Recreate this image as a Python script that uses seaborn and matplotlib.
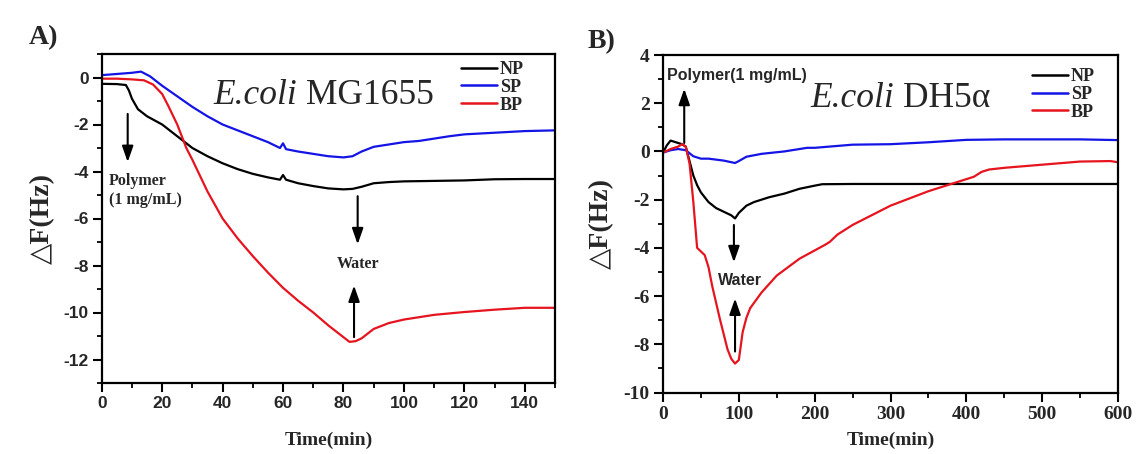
import numpy as np
import pandas as pd
import seaborn as sns
import matplotlib
matplotlib.use("Agg")
import matplotlib.pyplot as plt
from matplotlib.ticker import MultipleLocator
from matplotlib.lines import Line2D

# ---------------- Data: panel A (E.coli MG1655) ----------------
a_np_t = [0, 5, 8, 9, 10, 12, 15, 20, 25, 30, 35, 40, 45, 50, 55, 59, 60, 61, 65, 70, 75, 80, 83, 86, 90, 95, 100, 110, 120, 130, 140, 150]
a_np = [-0.27, -0.28, -0.32, -0.55, -0.9, -1.35, -1.65, -2.0, -2.5, -3.0, -3.35, -3.65, -3.9, -4.1, -4.25, -4.35, -4.15, -4.35, -4.5, -4.62, -4.72, -4.76, -4.74, -4.65, -4.5, -4.45, -4.42, -4.4, -4.38, -4.33, -4.32, -4.32]
a_sp_t = [0, 5, 10, 13, 16, 20, 25, 30, 35, 40, 45, 50, 55, 59, 60, 61, 65, 70, 75, 80, 83, 86, 90, 95, 100, 105, 110, 115, 120, 130, 140, 150]
a_sp = [0.1, 0.15, 0.2, 0.25, 0.05, -0.35, -0.8, -1.25, -1.65, -2.0, -2.25, -2.5, -2.75, -3.0, -2.8, -3.05, -3.15, -3.25, -3.35, -3.4, -3.35, -3.15, -2.95, -2.85, -2.75, -2.7, -2.6, -2.5, -2.42, -2.35, -2.28, -2.25]
a_bp_t = [0, 5, 10, 14, 17, 20, 22, 25, 28, 30, 35, 40, 45, 50, 55, 60, 65, 70, 75, 80, 82, 84, 86, 88, 90, 95, 100, 110, 120, 130, 140, 150]
a_bp = [-0.05, -0.05, -0.08, -0.12, -0.3, -0.7, -1.2, -2.0, -3.0, -3.5, -4.85, -6.0, -6.85, -7.6, -8.3, -8.95, -9.5, -10.0, -10.55, -11.05, -11.25, -11.22, -11.1, -10.9, -10.7, -10.45, -10.3, -10.1, -9.98, -9.88, -9.8, -9.8]

# ---------------- Data: panel B (E.coli DH5a) ----------------
b_np_t = [0, 5, 10, 15, 20, 25, 30, 35, 40, 45, 50, 60, 70, 80, 90, 95, 100, 110, 120, 140, 160, 180, 200, 210, 250, 300, 400, 500, 600]
b_np = [-0.05, 0.25, 0.45, 0.4, 0.35, 0.3, 0.2, -0.4, -1.0, -1.4, -1.7, -2.1, -2.35, -2.5, -2.65, -2.78, -2.55, -2.25, -2.1, -1.9, -1.75, -1.55, -1.42, -1.36, -1.35, -1.35, -1.35, -1.35, -1.35]
b_sp_t = [0, 10, 20, 30, 40, 50, 60, 80, 95, 100, 110, 130, 160, 190, 200, 250, 300, 350, 400, 450, 500, 550, 600]
b_sp = [-0.05, 0.05, 0.1, 0.05, -0.2, -0.3, -0.3, -0.38, -0.48, -0.4, -0.22, -0.1, 0.0, 0.15, 0.15, 0.28, 0.3, 0.38, 0.48, 0.5, 0.5, 0.5, 0.47]
b_bp_t = [0, 10, 20, 25, 30, 35, 40, 45, 50, 55, 60, 65, 75, 85, 90, 95, 100, 105, 110, 115, 130, 150, 180, 215, 220, 230, 250, 300, 350, 380, 400, 410, 420, 430, 450, 500, 550, 590, 600]
b_bp = [-0.05, 0.1, 0.2, 0.3, 0.2, -0.5, -2.1, -4.0, -4.15, -4.3, -4.8, -5.6, -6.95, -8.2, -8.6, -8.8, -8.65, -7.5, -6.9, -6.5, -5.85, -5.15, -4.45, -3.85, -3.75, -3.45, -3.05, -2.25, -1.65, -1.35, -1.15, -1.05, -0.85, -0.75, -0.68, -0.55, -0.42, -0.4, -0.45]

series_names = ["NP", "SP", "BP"]
palette = {"NP": "#000000", "SP": "#1414e6", "BP": "#e6141e"}


def frame(ts, ys):
    rows = []
    for name, t, y in zip(series_names, ts, ys):
        rows.append(pd.DataFrame({"Time": t, "dF": y, "Sample": name}))
    return pd.concat(rows, ignore_index=True)


df_a = frame([a_np_t, a_sp_t, a_bp_t], [a_np, a_sp, a_bp])
df_b = frame([b_np_t, b_sp_t, b_bp_t], [b_np, b_sp, b_bp])

sns.set_style("ticks")
SERIF = ['Liberation Serif', 'DejaVu Serif']
SANS = ['Liberation Sans', 'DejaVu Sans']
plt.rcParams['font.family'] = SERIF
plt.rcParams['axes.unicode_minus'] = False
plt.rcParams['axes.linewidth'] = 1.6

fig = plt.figure(figsize=(11.4, 4.54), dpi=100)
ax_a = fig.add_axes([101.7 / 1140, (454 - 383) / 454, 453.3 / 1140, 329 / 454])
ax_b = fig.add_axes([663 / 1140, (454 - 392.5) / 454, 455 / 1140, 337.5 / 454])


def style_axes(ax, xlim, ylim, xmaj, xmin, tickfam, ticksize, ylab_x, xlab_y):
    ax.set_xlim(*xlim)
    ax.set_ylim(*ylim)
    ax.xaxis.set_major_locator(MultipleLocator(xmaj))
    ax.xaxis.set_minor_locator(MultipleLocator(xmin))
    ax.yaxis.set_major_locator(MultipleLocator(2))
    ax.yaxis.set_minor_locator(MultipleLocator(1))
    ax.tick_params(which='major', direction='out', length=6.5, width=1.5,
                   labelsize=ticksize, pad=3, color='black')
    ax.tick_params(which='minor', direction='out', length=3.5, width=1.3, color='black')
    for lab in ax.get_xticklabels() + ax.get_yticklabels():
        lab.set_family(tickfam)
        lab.set_fontweight('bold')
    for s in ax.spines.values():
        s.set_linewidth(1.6)
        s.set_color('black')
        s.set_visible(True)
    ax.set_xlabel("Time(min)", family=SERIF, fontweight='bold', fontsize=14, va='top')
    ax.set_ylabel("△F(Hz)", family=SERIF, fontweight='bold', fontsize=20)
    ax.xaxis.set_label_coords(0.5, xlab_y)
    ax.yaxis.set_label_coords(ylab_x, 0.5)


for ax, df in [(ax_a, df_a), (ax_b, df_b)]:
    sns.lineplot(data=df, x="Time", y="dF", hue="Sample", hue_order=series_names,
                 palette=palette, linewidth=1.6, ax=ax, legend=False, sort=False,
                 estimator=None)

style_axes(ax_a, (0, 150), (-13, 1), 20, 10, SANS, 12.5, -0.103, (383 - 432) / 329)
style_axes(ax_b, (0, 600), (-10, 4), 100, 50, SERIF, 14, -0.108, (392.5 - 432) / 337.5)

handles = [Line2D([0], [0], color=palette[n], lw=1.8) for n in series_names]
for ax, anchor in [(ax_a, (0.7926, 0.979)), (ax_b, (0.811, 0.9615))]:
    ax.legend(handles, series_names, loc='upper left', bbox_to_anchor=anchor,
              frameon=False, handlelength=2.0, handletextpad=0.15, labelspacing=0.05,
              borderpad=0, borderaxespad=0,
              prop={'family': SERIF, 'weight': 'bold', 'size': 13})


def strain_label(ax, x, y, italic, rest, size=25.5):
    t = ax.text(x, y, italic, transform=ax.transAxes, fontsize=size, family=SERIF,
                style='italic', ha='left', va='baseline')
    fig.canvas.draw()
    bb = t.get_window_extent().transformed(ax.transAxes.inverted())
    gap = 0.02
    ax.text(bb.x1 + gap, y, rest, transform=ax.transAxes, fontsize=size, family=SERIF,
            ha='left', va='baseline')


strain_label(ax_a, 0.2455, 0.848, "E.coli", "MG1655")
strain_label(ax_b, 0.323, 0.846, "E.coli", "DH5α")

# Panel letters
fig.text(29 / 1140, (454 - 44.5) / 454, "A)", family=SERIF, fontweight='bold', fontsize=20,
         va='baseline')
fig.text(588 / 1140, (454 - 48) / 454, "B)", family=SERIF, fontweight='bold', fontsize=20,
         va='baseline')

arrow = dict(arrowstyle='-|>,head_length=0.8,head_width=0.28', color='black', lw=1.5,
             mutation_scale=12, shrinkA=0, shrinkB=0)

# Panel A annotations
ax_a.annotate("", xy=(8.6, -3.6), xytext=(8.6, -1.55), arrowprops=arrow)
ax_a.text(2.3, -4.8, "Polymer\n(1 mg/mL)", family=SERIF, fontweight='bold', fontsize=11.5,
          ha='left', va='center', linespacing=1.25)
ax_a.annotate("", xy=(84.7, -7.1), xytext=(84.7, -5.05), arrowprops=arrow)
ax_a.text(84.7, -7.92, "Water", family=SERIF, fontweight='bold', fontsize=11.5,
          ha='center', va='center')
ax_a.annotate("", xy=(83.5, -8.85), xytext=(83.5, -11.05), arrowprops=arrow)

# Panel B annotations
ax_b.text(4.8, 3.13, "Polymer(1 mg/mL)", family=SANS, fontweight='bold', fontsize=11.5,
          ha='left', va='center')
ax_b.annotate("", xy=(28, 2.6), xytext=(28, 0.35), arrowprops=arrow)
ax_b.annotate("", xy=(93.5, -4.6), xytext=(93.5, -3.05), arrowprops=arrow)
ax_b.text(101, -5.37, "Water", family=SANS, fontweight='bold', fontsize=11.5,
          ha='center', va='center')
ax_b.annotate("", xy=(95, -6.1), xytext=(95, -8.3), arrowprops=arrow)

fig.savefig("out.png", dpi=100)
